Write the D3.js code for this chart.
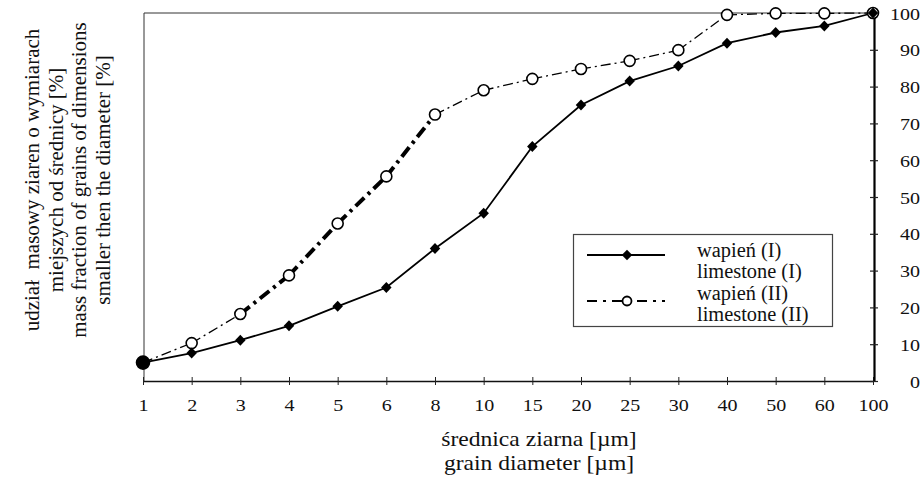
<!DOCTYPE html>
<html>
<head>
<meta charset="utf-8">
<script src="https://cdn.jsdelivr.net/npm/d3@7"></script>
<style>
  html, body { margin: 0; padding: 0; background: #fff; }
  svg { display: block; }
  text { font-family: "Liberation Serif", "Times New Roman", serif; fill: #111; }
</style>
</head>
<body>
<svg id="chart" width="924" height="477"></svg>
<script>
// Grain diameter classes [µm] (categorical x axis)
const diameters = ["1", "2", "3", "4", "5", "6", "8", "10", "15", "20", "25", "30", "40", "50", "60", "100"];
// Cumulative mass fraction smaller than the diameter [%]
const limestoneI  = [5, 7.6, 11.1, 15, 20.3, 25.4, 36, 45.6, 63.7, 75, 81.5, 85.6, 91.8, 94.7, 96.5, 100];
const limestoneII = [5, 10.3, 18.2, 28.7, 42.8, 55.6, 72.4, 79, 82.1, 84.8, 87, 89.9, 99.5, 99.9, 99.9, 100];
const yTicks = [0, 10, 20, 30, 40, 50, 60, 70, 80, 90, 100];
const seriesNames = [["wapień (I)", "limestone (I)"], ["wapień (II)", "limestone (II)"]];
const yTitle = ["udział  masowy ziaren o wymiarach", "miejszych od średnicy [%]",
                "mass fraction of grains of dimensions", "smaller then the diameter [%]"];
const xTitle = ["średnica ziarna [µm]", "grain diameter [µm]"];

const FONT = "Liberation Serif, Times New Roman, serif";

const svg = d3.select("#chart");
const plotL = 143, plotR = 873, plotT = 13, plotB = 381;

const x = d3.scalePoint().domain(diameters).range([plotL, plotR]);
const y = d3.scaleLinear().domain([0, 100]).range([plotB, plotT]);

// places a horizontally widened text with its anchor at (px, py)
function wideText(sel, px, py, anchor, size, wide, str) {
  return sel.append("text")
    .attr("transform", `translate(${px},${py}) scale(${wide},1)`)
    .attr("text-anchor", anchor).attr("font-size", size)
    .attr("font-family", FONT).attr("fill", "#111")
    .style("white-space", "pre")
    .text(str);
}

// plot area frame (top and left edges)
svg.append("path")
  .attr("d", `M${plotL + 1},${plotB} V${plotT} H${plotR}`)
  .attr("fill", "none").attr("stroke", "#333").attr("stroke-width", 1);

// bottom axis with crossing ticks
const gx = svg.append("g").attr("transform", `translate(0,${plotB})`)
  .call(d3.axisBottom(x).tickSizeOuter(0))
  .attr("font-family", FONT);
gx.select(".domain").attr("stroke", "#111").attr("stroke-width", 1.5);
gx.selectAll(".tick line").attr("y1", -4).attr("y2", 4).attr("stroke", "#222");
gx.selectAll(".tick text").attr("y", null).attr("dy", null)
  .attr("transform", "translate(0,30) scale(1.18,1)")
  .attr("font-size", 17).attr("fill", "#111");

// right axis with crossing ticks, right-aligned labels
const gy = svg.append("g").attr("transform", `translate(${plotR + 1},0)`)
  .call(d3.axisRight(y).tickValues(yTicks).tickSizeOuter(0))
  .attr("font-family", FONT);
gy.select(".domain").attr("stroke", "#000").attr("stroke-width", 2.2);
gy.selectAll(".tick line").attr("x1", -4).attr("x2", 4).attr("stroke", "#222").attr("stroke-width", 1.2);
gy.selectAll(".tick text").attr("x", null).attr("dy", null)
  .attr("transform", "translate(46,6) scale(1.18,1)")
  .attr("text-anchor", "end")
  .attr("font-size", 17).attr("fill", "#111");

// series II: dash-dot line, bold through the steep middle part
const boldSegment = i => i >= 2 && i < 6;
const ptsII = diameters.map((d, i) => [x(d), y(limestoneII[i])]);
for (let i = 0; i < ptsII.length - 1; i++) {
  svg.append("line")
    .attr("x1", ptsII[i][0]).attr("y1", ptsII[i][1])
    .attr("x2", ptsII[i + 1][0]).attr("y2", ptsII[i + 1][1])
    .attr("stroke", "#000")
    .attr("stroke-width", boldSegment(i) ? 4 : 1.3)
    .attr("stroke-dasharray", boldSegment(i) ? "12,5,3,5" : "10,4,2,4");
}

// series I: solid line
const line = d3.line().x(d => d[0]).y(d => d[1]);
const ptsI = diameters.map((d, i) => [x(d), y(limestoneI[i])]);
svg.append("path").attr("d", line(ptsI))
  .attr("fill", "none").attr("stroke", "#000").attr("stroke-width", 1.8);

// markers
const diamond = d3.symbol().type(d3.symbolDiamond2).size(70);
svg.append("g").selectAll("circle").data(ptsII).join("circle")
  .attr("cx", d => d[0]).attr("cy", d => d[1])
  .attr("r", (d, i) => i === 0 ? 6.5 : 5.5)
  .attr("fill", (d, i) => i === 0 ? "#000" : "#fff")
  .attr("stroke", "#000").attr("stroke-width", 1.6);
svg.append("g").selectAll("path").data(ptsI).join("path")
  .attr("d", diamond)
  .attr("transform", d => `translate(${d[0]},${d[1]}) scale(1,1.05)`)
  .attr("fill", "#000");

// legend
const lg = svg.append("g");
lg.append("rect").attr("x", 573.5).attr("y", 234.5).attr("width", 259).attr("height", 92)
  .attr("fill", "#fff").attr("stroke", "#444").attr("stroke-width", 1.2);
lg.append("line").attr("x1", 587).attr("x2", 665).attr("y1", 255).attr("y2", 255)
  .attr("stroke", "#000").attr("stroke-width", 1.8);
lg.append("path").attr("d", diamond).attr("transform", "translate(627,255)").attr("fill", "#000");
lg.append("line").attr("x1", 587).attr("x2", 665).attr("y1", 301).attr("y2", 301)
  .attr("stroke", "#000").attr("stroke-width", 1.8).attr("stroke-dasharray", "10,6,3,6");
lg.append("circle").attr("cx", 627).attr("cy", 301).attr("r", 4.5)
  .attr("fill", "#fff").attr("stroke", "#000").attr("stroke-width", 1.8);
seriesNames.flat().forEach((t, i) => {
  wideText(lg, 697, 257 + i * 21.3, "start", 20, 1.02, t);
});

// y axis title (rotated, four lines)
yTitle.forEach((t, i) => {
  svg.append("text")
    .attr("transform", `translate(${39 + i * 23.5},180) rotate(-90)`)
    .attr("text-anchor", "middle").attr("font-size", 21)
    .attr("font-family", FONT).attr("fill", "#111")
    .style("white-space", "pre")
    .text(t);
});

// x axis title
xTitle.forEach((t, i) => {
  wideText(svg, 539, 446 + i * 24, "middle", 20.5, 1.15, t);
});
</script>
</body>
</html>
